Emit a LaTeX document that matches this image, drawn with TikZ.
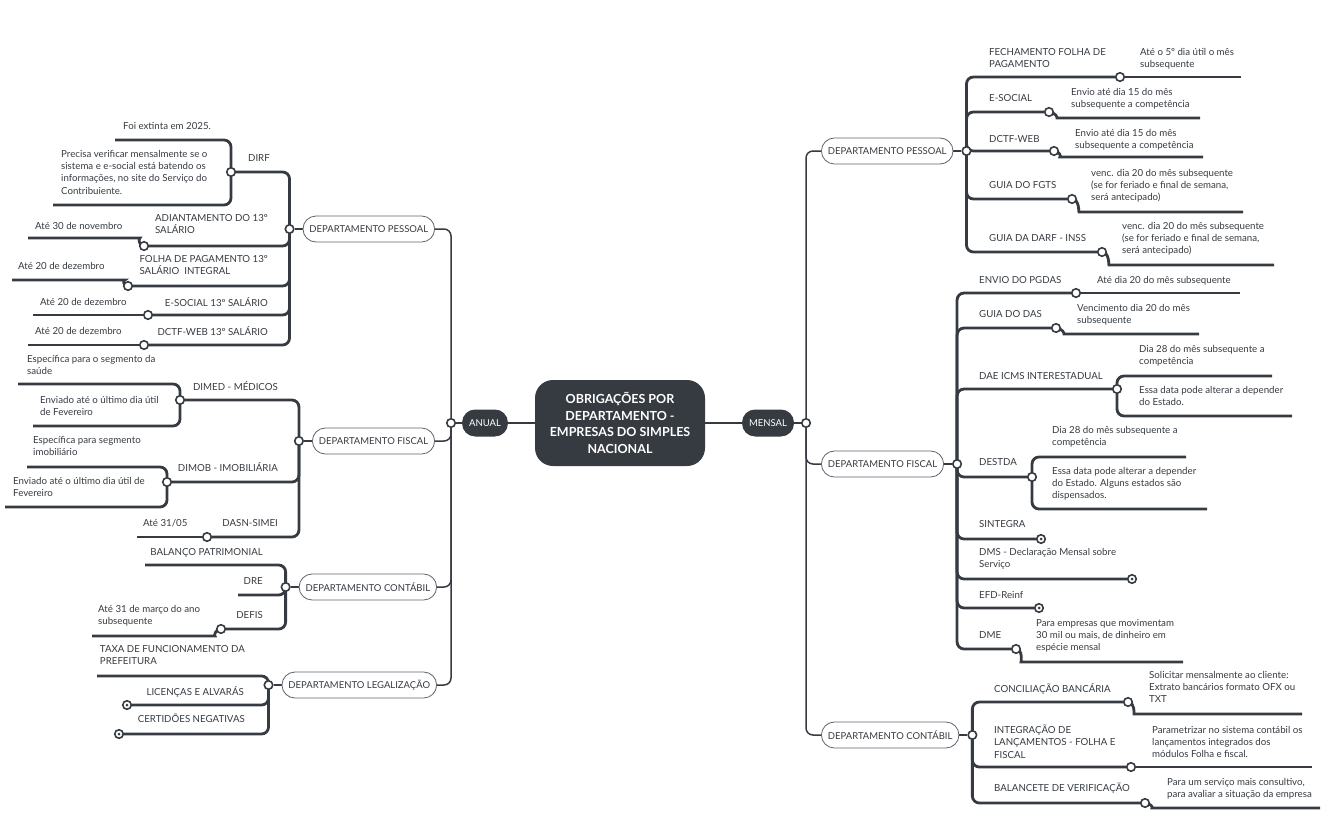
\documentclass[tikz,border=0pt]{standalone}
\usepackage{fontspec}
\setmainfont{Lato}
\usetikzlibrary{positioning, backgrounds}

\definecolor{slate}{HTML}{363B41}
\definecolor{rim}{HTML}{5E6369}

\tikzset{
  every node/.style={text=slate},
  hub/.style={fill=slate, text=white, font=\fontsize{12.5}{16.5}\selectfont\bfseries, rounded corners=18pt, align=center, minimum width=170pt, minimum height=86pt},
  period/.style={fill=slate, text=white, font=\fontsize{9.5}{11}\selectfont, rounded corners=13pt, minimum height=27pt, inner xsep=7pt},
  dept/.style={draw=rim, line width=0.8pt, fill=white, rounded corners=13pt, minimum height=26pt, inner xsep=6.5pt, font=\fontsize{9.5}{12}\selectfont},
  txt/.style={font=\fontsize{9.7}{12.3}\selectfont, align=left, inner sep=0pt, anchor=north west, yshift=5.1pt, execute at begin node=\strut},
  txtr/.style={txt, anchor=north east},
  trunk/.style={draw=slate, line width=1.5pt, rounded corners=7pt},
  limb/.style={draw=slate, line width=2.8pt, rounded corners=7pt},
  knob/.style={circle, draw=slate, fill=white, line width=1.6pt, inner sep=0pt, minimum size=8.5pt},
  shut/.style={knob, path picture={\fill[slate] (path picture bounding box.center) circle (1.5pt);}}
}

\begin{document}
\begin{tikzpicture}[x=1pt, y=-1pt]
\useasboundingbox (0,0) rectangle (1341,830);

\node[hub] (hub) at (620,423) {OBRIGAÇÕES POR\\DEPARTAMENTO -\\EMPRESAS DO SIMPLES\\NACIONAL};
\node[period] (anual) at (485,423) {ANUAL};
\node[period] (mensal) at (768,423) {MENSAL};
\node[knob] (kA) at (451,423) {};
\node[knob] (kM) at (806,423) {};

\node[dept, anchor=east] (pesA) at (435,229) {DEPARTAMENTO PESSOAL};
\node[dept, anchor=east] (fisA) at (435,441) {DEPARTAMENTO FISCAL};
\node[dept, anchor=east] (conA) at (437,587) {DEPARTAMENTO CONTÁBIL};
\node[dept, anchor=east] (legA) at (437,685) {DEPARTAMENTO LEGALIZAÇÃO};
\foreach \d in {pesA,fisA,conA,legA}
  \node[knob, left=8pt of \d] (k\d) {};

\node[dept, anchor=west] (pesM) at (821,151) {DEPARTAMENTO PESSOAL};
\node[dept, anchor=west] (fisM) at (821,464) {DEPARTAMENTO FISCAL};
\node[dept, anchor=west] (conM) at (821,735) {DEPARTAMENTO CONTÁBIL};
\foreach \d in {pesM,fisM,conM}
  \node[knob, right=8pt of \d] (k\d) {};

\node[txtr] (tDirf) at (270,158) {DIRF};
\node[txt] (tFoi) at (123,126) {Foi extinta em 2025.};
\node[txt] (tPrec) at (61,155) {Precisa verificar mensalmente se o\\sistema e e-social está batendo os\\informações, no site do Serviço do\\Contribuiente.};
\node[txtr] (tAdi) at (268,219) {ADIANTAMENTO DO 13º\\SALÁRIO};
\node[txt] (tNov) at (35,226) {Até 30 de novembro};
\node[txtr] (tFol) at (268,260) {FOLHA DE PAGAMENTO 13º\\SALÁRIO~ INTEGRAL};
\node[txtr] (tEso) at (268,302) {E-SOCIAL 13º SALÁRIO};
\node[txtr] (tDct) at (268,331) {DCTF-WEB 13º SALÁRIO};
\foreach \x/\y/\n in {18/266/a, 40/302/b, 35/331/c}
  \node[txt] (dez\n) at (\x,\y) {Até 20 de dezembro};
\node[knob] (kDirf) at (231,172) {};
\node[knob] (kAdi) at (144,246) {};
\node[knob] (kFol) at (128,286) {};
\node[knob] (kEso) at (148,315) {};
\node[knob] (kDct) at (144,345) {};

\node[txt] (tSau) at (27,360) {Específica para o segmento da\\saúde};
\node[txt] (tFev) at (40,401) {Enviado até o último dia útil\\de Fevereiro};
\node[txtr] (tDim) at (278,386) {DIMED - MÉDICOS};
\node[txt] (tImo) at (33,441) {Específica para segmento\\imobiliário};
\node[txt] (tFev2) at (13,482) {Enviado até o último dia útil de\\Fevereiro};
\node[txtr] (tDib) at (278,467) {DIMOB - IMOBILIÁRIA};
\node[txt] (tMai) at (143,523) {Até 31/05};
\node[txtr] (tDasn) at (278,523) {DASN-SIMEI};
\node[knob] (kDim) at (180,400) {};
\node[knob] (kDib) at (167,482) {};
\node[knob] (kDasn) at (207,537) {};

\node[txtr] (tBal) at (263,552) {BALANÇO PATRIMONIAL};
\node[txtr] (tDre) at (263,581) {DRE};
\node[txtr] (tDef) at (263,615) {DEFIS};
\node[txt] (tMar) at (98,610) {Até 31 de março do ano\\subsequente};
\node[knob] (kDef) at (221,629) {};

\node[txtr] (tTax) at (245,650) {TAXA DE FUNCIONAMENTO DA\\PREFEITURA};
\node[txtr] (tLic) at (244,691) {LICENÇAS E ALVARÁS};
\node[txtr] (tCer) at (245,719) {CERTIDÕES NEGATIVAS};
\node[shut] (sLic) at (127,705) {};
\node[shut] (sCer) at (119,734) {};

\node[txt] (tFec) at (989,53) {FECHAMENTO FOLHA DE\\PAGAMENTO};
\node[txt] (tFecD) at (1140,53) {Até o 5º dia útil o mês\\subsequente};
\node[txt] (tEsm) at (989,98) {E-SOCIAL};
\node[txt] (tEsmD) at (1071,93) {Envio até dia 15 do mês\\subsequente a competência};
\node[txt] (tDcm) at (989,139) {DCTF-WEB};
\node[txt] (tDcmD) at (1075,134) {Envio até dia 15 do mês\\subsequente a competência};
\node[txt] (tFgt) at (989,185) {GUIA DO FGTS};
\node[txt] (tFgtD) at (1091,174) {venc. dia 20 do mês subsequente\\(se for feriado e final de semana,\\será antecipado)};
\node[txt] (tDar) at (989,238) {GUIA DA DARF - INSS};
\node[txt] (tDarD) at (1122,227) {venc. dia 20 do mês subsequente\\(se for feriado e final de semana,\\será antecipado)};
\node[knob] (kFec) at (1120,77) {};
\node[knob] (kEsm) at (1049,112) {};
\node[knob] (kDcm) at (1054,151) {};
\node[knob] (kFgt) at (1072,199) {};
\node[knob] (kDar) at (1102,252) {};

\node[txt] (tPgd) at (979,280) {ENVIO DO PGDAS};
\node[txt] (tPgdD) at (1097,280) {Até dia 20 do mês subsequente};
\node[txt] (tDas) at (979,314) {GUIA DO DAS};
\node[txt] (tDasD) at (1077,309) {Vencimento dia 20 do mês\\subsequente};
\node[txt] (tDae) at (979,376) {DAE ICMS INTERESTADUAL};
\node[txt] (tDaeA) at (1139,350) {Dia 28 do mês subsequente a\\competência};
\node[txt] (tDaeB) at (1139,391) {Essa data pode alterar a depender\\do Estado.};
\node[txt] (tDes) at (979,462) {DESTDA};
\node[txt] (tDesA) at (1052,431) {Dia 28 do mês subsequente a\\competência};
\node[txt] (tDesB) at (1052,472) {Essa data pode alterar a depender\\do Estado. Alguns estados são\\dispensados.};
\node[txt] (tSin) at (979,524) {SINTEGRA};
\node[txt] (tDms) at (979,553) {DMS - Declaração Mensal sobre\\Serviço};
\node[txt] (tEfd) at (979,595) {EFD-Reinf};
\node[txt] (tDme) at (979,635) {DME};
\node[txt] (tDmeD) at (1036,624) {Para empresas que movimentam\\30 mil ou mais, de dinheiro em\\espécie mensal};
\node[knob] (kPgd) at (1076,293) {};
\node[knob] (kDas) at (1056,328) {};
\node[knob] (kDae) at (1117,389) {};
\node[knob] (kDes) at (1032,477) {};
\node[shut] (sSin) at (1041,539) {};
\node[shut] (sDms) at (1132,579) {};
\node[shut] (sEfd) at (1039,608) {};
\node[knob] (kDme) at (1016,649) {};

\node[txt] (tCon) at (994,688) {CONCILIAÇÃO BANCÁRIA};
\node[txt] (tConD) at (1149,676) {Solicitar mensalmente ao cliente:\\Extrato bancários formato OFX ou\\TXT};
\node[txt] (tInt) at (994,730) {INTEGRAÇÃO DE\\LANÇAMENTOS - FOLHA E\\FISCAL};
\node[txt] (tIntD) at (1152,731) {Parametrizar no sistema contábil os\\lançamentos integrados dos\\módulos Folha e fiscal.};
\node[txt] (tBcv) at (994,788) {BALANCETE DE VERIFICAÇÃO};
\node[txt] (tBcvD) at (1167,783) {Para um serviço mais consultivo,\\para avaliar a situação da empresa};
\node[knob] (kCon) at (1128,702) {};
\node[knob] (kInt) at (1131,767) {};
\node[knob] (kBcv) at (1145,803) {};

\coordinate (eFoi) at (115,140);
\coordinate (ePrec) at (53,205);
\coordinate (eNov) at (28,238);
\coordinate (eFol) at (12,280);
\coordinate (eEso) at (33,315);
\coordinate (eDct) at (28,345);
\coordinate (eSau) at (18,384);
\coordinate (eFev) at (33,426);
\coordinate (eImo) at (27,467);
\coordinate (eFev2) at (5,507);
\coordinate (eMai) at (137,537);
\coordinate (eBal) at (145,565);
\coordinate (eDre) at (238,595);
\coordinate (eMar) at (92,636);
\coordinate (eTax) at (97,676);
\coordinate (eFec) at (1241,77);
\coordinate (eEsm) at (1200,118);
\coordinate (eDcm) at (1203,157);
\coordinate (eFgt) at (1243,212);
\coordinate (eDar) at (1274,265);
\coordinate (ePgd) at (1240,293);
\coordinate (eDas) at (1199,334);
\coordinate (eDaeA) at (1272,376);
\coordinate (eDaeB) at (1292,416);
\coordinate (eDesA) at (1186,457);
\coordinate (eDesB) at (1207,509);
\coordinate (eDme) at (1183,662);
\coordinate (eCon) at (1302,714);
\coordinate (eInt) at (1312,767);
\coordinate (eBcv) at (1320,808);

\begin{scope}[on background layer]
\draw[trunk] (hub) -- (anual) (hub) -- (mensal);
\draw[limb] (anual) -- (kA) (mensal) -- (kM);
\foreach \d in {pesA,fisA,conA,legA} {
  \draw[trunk] (kA.center) |- (\d.east);
  \draw[limb] (\d) -- (k\d);
}
\foreach \d in {pesM,fisM,conM} {
  \draw[trunk] (kM.center) |- (\d.west);
  \draw[limb] (\d) -- (k\d);
}

\foreach \k in {kDirf,kAdi,kFol,kEso,kDct}
  \draw[limb] (kpesA.center) |- (\k.center);
\draw[limb] (kDirf.center) |- (eFoi);
\draw[limb] (kDirf.center) |- (ePrec);
\draw[limb] (kAdi.center) to[out=180, in=0] ++(-11,-8) -- (eNov);
\draw[limb] (kFol.center) to[out=180, in=0] ++(-10,-6) -- (eFol);
\draw[limb] (kEso.center) -- (eEso);
\draw[limb] (kDct.center) -- (eDct);

\foreach \k in {kDim,kDib,kDasn}
  \draw[limb] (kfisA.center) |- (\k.center);
\draw[limb] (kDim.center) |- (eSau);
\draw[limb] (kDim.center) |- (eFev);
\draw[limb] (kDib.center) |- (eImo);
\draw[limb] (kDib.center) |- (eFev2);
\draw[limb] (kDasn.center) -- (eMai);

\draw[limb] (kconA.center) |- (eBal);
\draw[limb] (kconA.center) |- (eDre);
\draw[limb] (kconA.center) |- (kDef.center);
\draw[limb] (kDef.center) to[out=180, in=0] ++(-13,7) -- (eMar);

\draw[limb] (klegA.center) |- (eTax);
\draw[limb] (klegA.center) |- (sLic.center);
\draw[limb] (klegA.center) |- (sCer.center);

\foreach \k in {kFec,kEsm,kDcm,kFgt,kDar}
  \draw[limb] (kpesM.center) |- (\k.center);
\draw[limb] (kFec.center) -- (eFec);
\draw[limb] (kEsm.center) to[out=0, in=180] ++(15,6) -- (eEsm);
\draw[limb] (kDcm.center) to[out=0, in=180] ++(13,6) -- (eDcm);
\draw[limb] (kFgt.center) to[out=0, in=180] ++(14,13) -- (eFgt);
\draw[limb] (kDar.center) to[out=0, in=180] ++(14,13) -- (eDar);

\foreach \k in {kPgd,kDas,kDae,kDes,sSin,sDms,sEfd,kDme}
  \draw[limb] (kfisM.center) |- (\k.center);
\draw[limb] (kPgd.center) -- (ePgd);
\draw[limb] (kDas.center) to[out=0, in=180] ++(15,6) -- (eDas);
\draw[limb] (kDae.center) |- (eDaeA);
\draw[limb] (kDae.center) |- (eDaeB);
\draw[limb] (kDes.center) |- (eDesA);
\draw[limb] (kDes.center) |- (eDesB);
\draw[limb] (kDme.center) to[out=0, in=180] ++(12,13) -- (eDme);

\foreach \k in {kCon,kInt,kBcv}
  \draw[limb] (kconM.center) |- (\k.center);
\draw[limb] (kCon.center) to[out=0, in=180] ++(13,12) -- (eCon);
\draw[limb] (kInt.center) -- (eInt);
\draw[limb] (kBcv.center) to[out=0, in=180] ++(14,5) -- (eBcv);
\end{scope}
\end{tikzpicture}
\end{document}
